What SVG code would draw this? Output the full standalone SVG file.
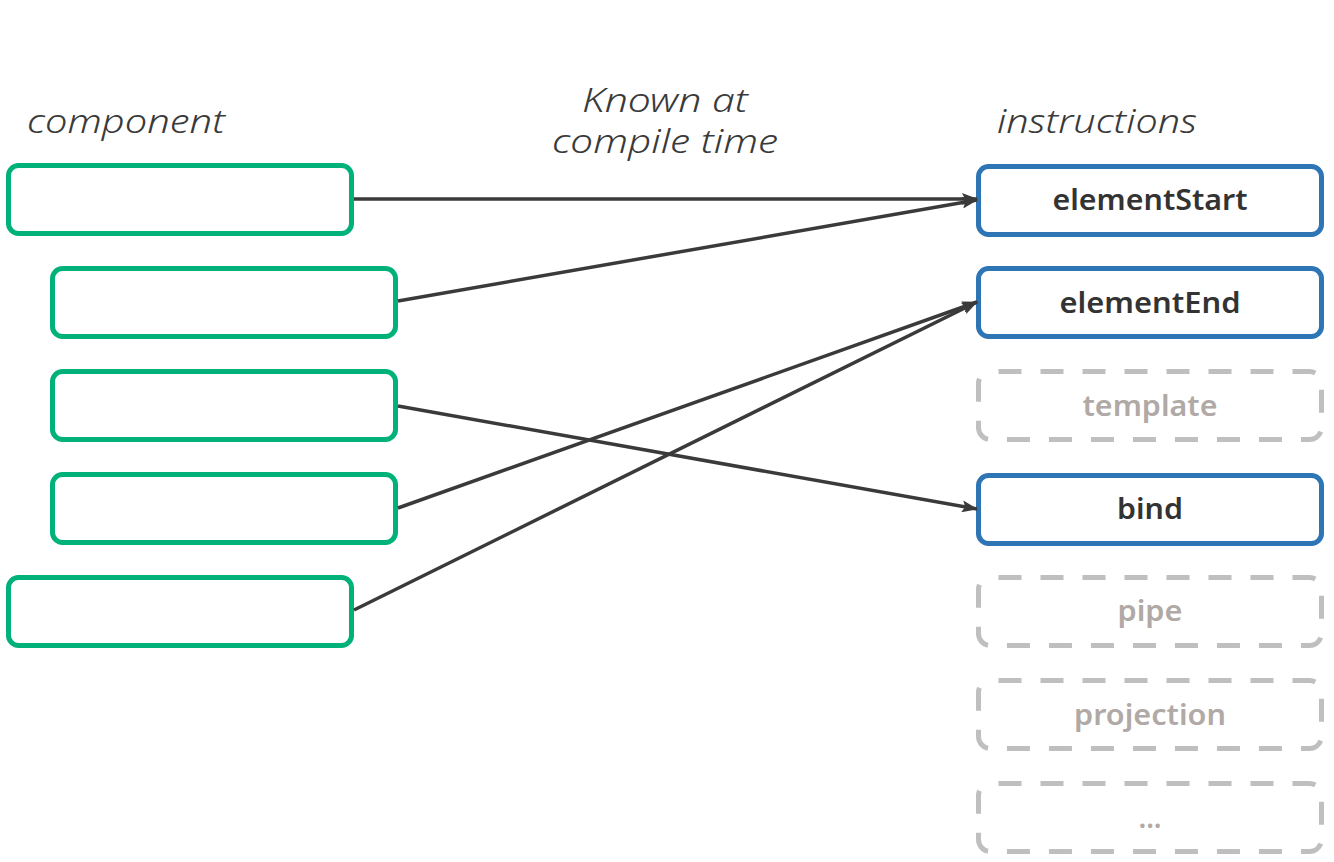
<svg xmlns="http://www.w3.org/2000/svg" width="1334" height="862" viewBox="0 0 1334 862">
<defs>
<marker id="ah" viewBox="0 0 16 12" refX="15" refY="6" markerWidth="16" markerHeight="12" markerUnits="userSpaceOnUse" orient="auto">
<path d="M0,0 L16,6 L0,12 L3,6 Z" fill="#3a3a3a"/>
</marker>
<style>
.comp{fill:#fff;stroke:#00b27a;stroke-width:5}
.ins{fill:#fff;stroke:#2e75b6;stroke-width:5}
.opt{fill:#fff;stroke:#bfbfbf;stroke-width:5;stroke-dasharray:23 19;stroke-dashoffset:-8}
.lbl{font-family:"Noto Sans","DejaVu Sans",sans-serif;font-weight:600;font-size:28px;text-anchor:middle;fill:#333}
.olbl{font-family:"Noto Sans","DejaVu Sans",sans-serif;font-weight:600;font-size:28px;text-anchor:middle;fill:#b0a9a6}
.hd{font-family:"Noto Sans","DejaVu Sans",sans-serif;font-style:italic;font-weight:300;font-size:33px;fill:#3a3a3a}
.con{stroke:#3a3a3a;stroke-width:3.5;fill:none;marker-end:url(#ah)}
</style>
</defs>
<rect width="1334" height="862" fill="#fff"/>
<g id="headings">
<text class="hd" x="27" y="133" textLength="198" lengthAdjust="spacingAndGlyphs">component</text>
<text class="hd" x="997" y="133" textLength="200" lengthAdjust="spacingAndGlyphs">instructions</text>
<text class="hd" x="665" y="112" text-anchor="middle" textLength="166" lengthAdjust="spacingAndGlyphs">Known at</text>
<text class="hd" x="665" y="153" text-anchor="middle" textLength="226" lengthAdjust="spacingAndGlyphs">compile time</text>
</g>
<g id="component1"><rect class="comp" x="8.5" y="165.5" width="343" height="68" rx="10"/></g>
<g id="component2"><rect class="comp" x="52.5" y="268.5" width="343" height="68" rx="10"/></g>
<g id="component3"><rect class="comp" x="52.5" y="371.5" width="343" height="68" rx="10"/></g>
<g id="component4"><rect class="comp" x="52.5" y="474.5" width="343" height="68" rx="10"/></g>
<g id="component5"><rect class="comp" x="8.5" y="577.5" width="343" height="68" rx="10"/></g>
<g id="elementStart"><rect class="ins" x="978.5" y="166.5" width="343" height="68" rx="10"/><text class="lbl" x="1150" y="210" textLength="195" lengthAdjust="spacingAndGlyphs">elementStart</text></g>
<g id="elementEnd"><rect class="ins" x="978.5" y="268.5" width="343" height="68" rx="10"/><text class="lbl" x="1150" y="313" textLength="181" lengthAdjust="spacingAndGlyphs">elementEnd</text></g>
<g id="template"><rect class="opt" x="978.5" y="371.5" width="343" height="68" rx="12"/><text class="olbl" x="1150" y="416" textLength="135" lengthAdjust="spacingAndGlyphs">template</text></g>
<g id="bind"><rect class="ins" x="978.5" y="475.5" width="343" height="68" rx="10"/><text class="lbl" x="1150" y="519" textLength="66" lengthAdjust="spacingAndGlyphs">bind</text></g>
<g id="pipe"><rect class="opt" x="978.5" y="577.5" width="343" height="68" rx="12"/><text class="olbl" x="1150" y="621" textLength="65" lengthAdjust="spacingAndGlyphs">pipe</text></g>
<g id="projection"><rect class="opt" x="978.5" y="680.5" width="343" height="68" rx="12"/><text class="olbl" x="1150" y="725" textLength="152" lengthAdjust="spacingAndGlyphs">projection</text></g>
<g id="more"><rect class="opt" x="978.5" y="783.5" width="343" height="68" rx="12"/><text class="olbl" x="1150" y="828">...</text></g>
<g id="connectors">
<line class="con" x1="354" y1="199" x2="977" y2="199"/>
<line class="con" x1="398" y1="301" x2="977" y2="200"/>
<line class="con" x1="398" y1="406" x2="977" y2="509"/>
<line class="con" x1="398" y1="508" x2="977" y2="302"/>
<line class="con" x1="354" y1="610" x2="977" y2="302"/>
</g>
</svg>
